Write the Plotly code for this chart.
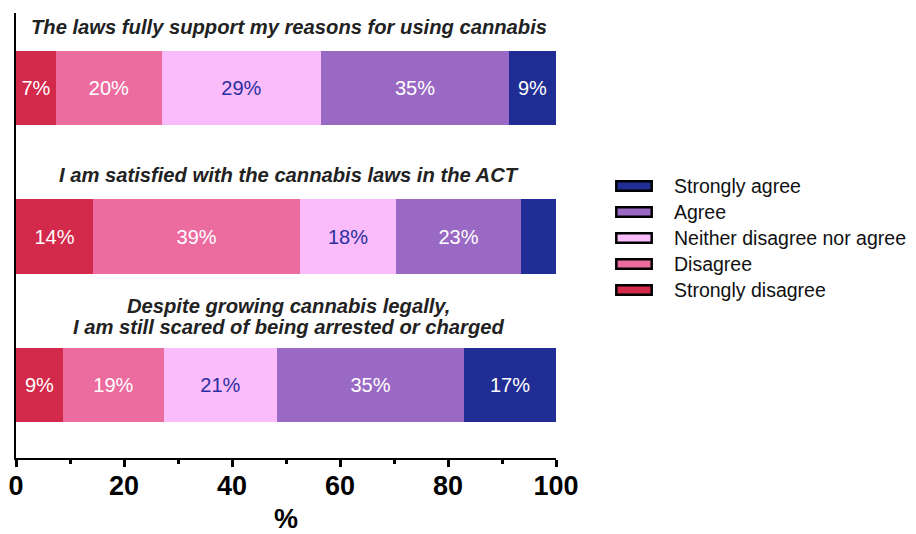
import plotly.graph_objects as go

categories = [
    "The laws fully support my reasons for using cannabis",
    "I am satisfied with the cannabis laws in the ACT",
    "Despite growing cannabis legally,<br>I am still scared of being arrested or charged",
]
series_names = ["Strongly disagree", "Disagree", "Neither disagree nor agree", "Agree", "Strongly agree"]
strongly_disagree = [7.4, 14.3, 8.7]
disagree = [19.6, 38.3, 18.7]
neither = [29.5, 17.8, 20.9]
agree = [34.8, 23.1, 34.7]
strongly_agree = [8.7, 6.5, 17.0]
labels_strongly_disagree = ["7%", "14%", "9%"]
labels_disagree = ["20%", "39%", "19%"]
labels_neither = ["29%", "18%", "21%"]
labels_agree = ["35%", "23%", "35%"]
labels_strongly_agree = ["9%", "", "17%"]
x_ticks = [0, 20, 40, 60, 80, 100]

colors = ["#d3294a", "#ec6ca0", "#fbbcfb", "#9a69c4", "#1f2d94"]
text_colors = ["white", "white", "#2b2fa0", "white", "white"]
values = [strongly_disagree, disagree, neither, agree, strongly_agree]
labels = [labels_strongly_disagree, labels_disagree, labels_neither, labels_agree, labels_strongly_agree]

FONT = "Liberation Sans, Arial, Helvetica"
ypos = list(range(len(categories)))
fig = go.Figure()
for name, vals, labs, col, tcol in zip(series_names, values, labels, colors, text_colors):
    fig.add_trace(go.Bar(
        y=ypos, x=vals, orientation="h", name=name, width=0.5,
        marker=dict(color=col, line=dict(width=0)),
        text=labs, textposition="inside", insidetextanchor="middle",
        textfont=dict(color=tcol, size=20, family=FONT),
        showlegend=False, hoverinfo="skip", cliponaxis=False,
    ))

# category titles above bars (one annotation per line)
for i, cat in enumerate(categories):
    lines = cat.split("<br>")
    n = len(lines)
    base = 11 if n == 1 else 8
    for k, line in enumerate(lines):
        fig.add_annotation(
            x=50.5, y=i - 0.25, xref="x", yref="y", text="<b><i>" + line + "</i></b>",
            showarrow=False, yanchor="bottom", yshift=base + (n - 1 - k) * 21,
            font=dict(size=20.2, color="#222222", family=FONT),
        )

# page offset (browser body margin) is 8 px; screen coordinates below
OFF = 8
W, H = 916 - OFF, 534 - OFF
SL, SR, ST, SB = 16, 556, 13, 458   # plot area in screen pixels
L, T = SL - OFF, ST - OFF
pw, ph = SR - SL, SB - ST
R, B = W - L - pw, H - T - ph
def px_x(px):
    return (px - SL) / pw
def px_y(py):
    return (SB - py) / ph
for k, (name, col) in enumerate(zip(reversed(series_names), reversed(colors))):
    cy = 186 + k * 26
    fig.add_shape(type="rect", xref="paper", yref="paper",
                  x0=px_x(616.3), x1=px_x(651.7), y0=px_y(cy + 4.75), y1=px_y(cy - 4.75),
                  fillcolor=col, line=dict(color="black", width=2.5))
    fig.add_annotation(xref="paper", yref="paper", x=px_x(671.5), y=px_y(cy),
                       text=name, showarrow=False, xanchor="left", yanchor="middle",
                       font=dict(size=19.5, color="#111111", family=FONT))

fig.update_layout(
    barmode="stack", width=W, height=H,
    margin=dict(l=L, r=R, t=T, b=B, autoexpand=False),
    plot_bgcolor="white", paper_bgcolor="white",
    uniformtext=dict(minsize=20, mode="show"),
    xaxis=dict(
        range=[0, 100], tickvals=x_ticks, ticktext=[str(v) for v in x_ticks],
        ticks="outside", ticklen=7, tickwidth=2.5, tickcolor="black",
        showline=True, linecolor="black", linewidth=2.2, showgrid=False, zeroline=False,
        automargin=False, ticklabelstandoff=-5,
        tickfont=dict(size=27, color="black", family=FONT, weight="bold"),
        minor=dict(tickvals=[10, 30, 50, 70, 90], ticks="outside", ticklen=4, tickwidth=2.5, tickcolor="black"),
        title=dict(text="%", standoff=14,
                   font=dict(size=27, color="black", family=FONT, weight="bold")),
    ),
    yaxis=dict(
        range=[2.49, -0.505], showticklabels=False, ticks="", showgrid=False, zeroline=False,
        showline=True, linecolor="black", linewidth=2.2, automargin=False,
    ),
)
fig.write_html("out.html")
